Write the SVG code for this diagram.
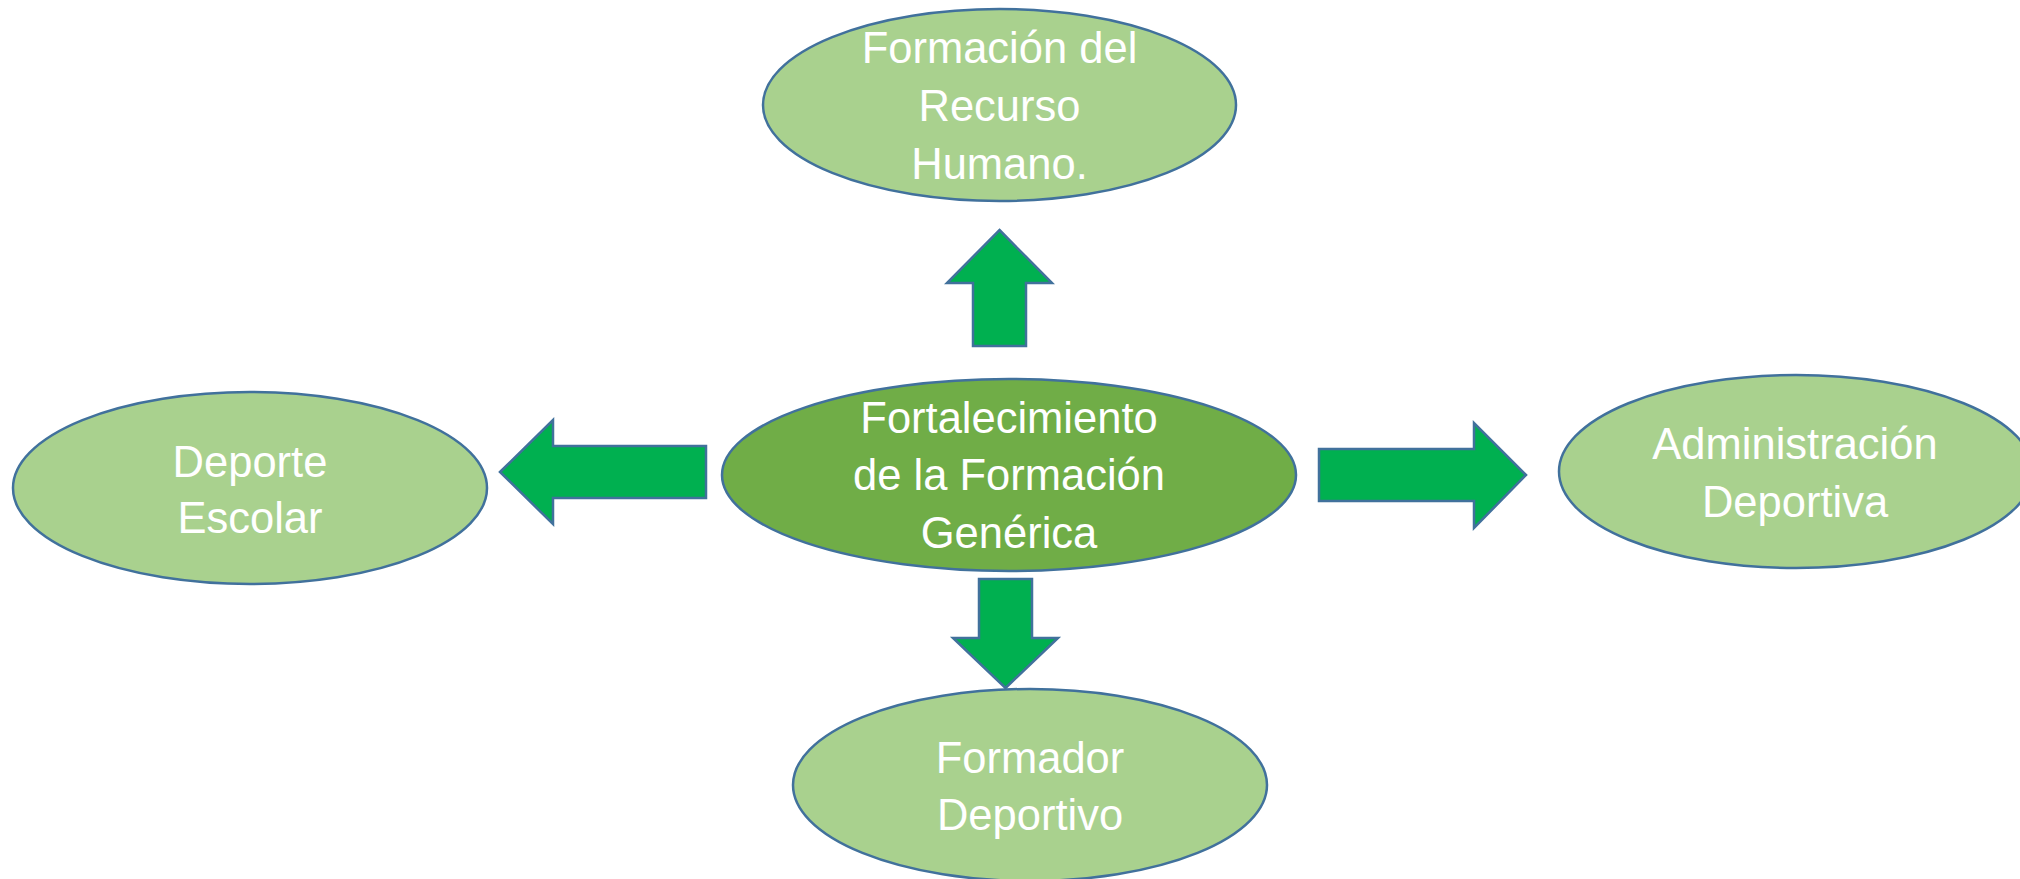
<svg xmlns="http://www.w3.org/2000/svg" width="2020" height="879" viewBox="0 0 2020 879">
<style>
.n{fill:#A9D18E;stroke:#41719C;stroke-width:2.5}
.c{fill:#70AD47;stroke:#41719C;stroke-width:2.5}
.a{fill:#00B050;stroke:#41719C;stroke-width:2.5;stroke-linejoin:miter}
text{font-family:"Liberation Sans",Arial,sans-serif;font-size:43.5px;fill:#FFFFFF;text-anchor:middle}
</style>
<rect width="2020" height="879" fill="#FFFFFF"/>
<g id="connectors">
<polygon class="a" points="999.5,230 1052,283 1026,283 1026,346 973,346 973,283 947,283"/>
<polygon class="a" points="1005.5,688 1058,638 1032,638 1032,579 979,579 979,638 953,638"/>
<polygon class="a" points="500,472 553,420 553,446 706,446 706,498 553,498 553,524"/>
<polygon class="a" points="1526,475 1474,423 1474,449 1319,449 1319,501 1474,501 1474,528"/>
</g>
<g id="node-center">
<ellipse class="c" cx="1009" cy="475" rx="287" ry="96"/>
<text x="1009" y="433">Fortalecimiento</text>
<text x="1009" y="490">de la Formación</text>
<text x="1009" y="548">Genérica</text>
</g>
<g id="node-top">
<ellipse class="n" cx="999.5" cy="105" rx="236.5" ry="96"/>
<text x="999.5" y="63">Formación del</text>
<text x="999.5" y="121">Recurso</text>
<text x="999.5" y="179">Humano.</text>
</g>
<g id="node-left">
<ellipse class="n" cx="250" cy="488" rx="237" ry="96"/>
<text x="250" y="477">Deporte</text>
<text x="250" y="533">Escolar</text>
</g>
<g id="node-right">
<ellipse class="n" cx="1796" cy="471.5" rx="237" ry="96.5"/>
<text x="1795" y="459">Administración</text>
<text x="1795" y="517">Deportiva</text>
</g>
<g id="node-bottom">
<ellipse class="n" cx="1030" cy="785" rx="237" ry="96"/>
<text x="1030" y="773">Formador</text>
<text x="1030" y="830">Deportivo</text>
</g>
</svg>
